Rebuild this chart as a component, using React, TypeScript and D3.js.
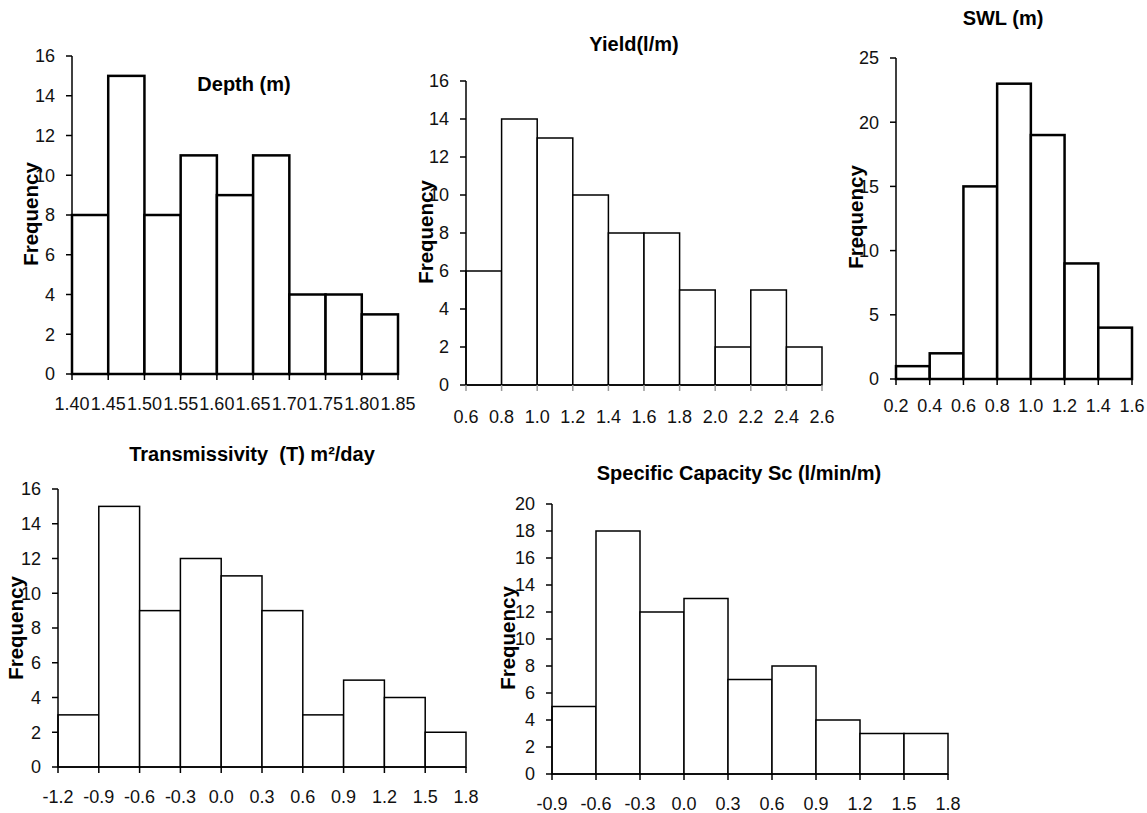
import React from "react";
import * as d3 from "d3";

// bin edges (also the x tick labels) and counts per histogram
const depthEdges = [1.4, 1.45, 1.5, 1.55, 1.6, 1.65, 1.7, 1.75, 1.8, 1.85];
const depthCounts = [8, 15, 8, 11, 9, 11, 4, 4, 3];
const depthYTicks = [0, 2, 4, 6, 8, 10, 12, 14, 16];

const yieldEdges = [0.6, 0.8, 1.0, 1.2, 1.4, 1.6, 1.8, 2.0, 2.2, 2.4, 2.6];
const yieldCounts = [6, 14, 13, 10, 8, 8, 5, 2, 5, 2];
const yieldYTicks = [0, 2, 4, 6, 8, 10, 12, 14, 16];

const swlEdges = [0.2, 0.4, 0.6, 0.8, 1.0, 1.2, 1.4, 1.6];
const swlCounts = [1, 2, 15, 23, 19, 9, 4];
const swlYTicks = [0, 5, 10, 15, 20, 25];

const transEdges = [-1.2, -0.9, -0.6, -0.3, 0.0, 0.3, 0.6, 0.9, 1.2, 1.5, 1.8];
const transCounts = [3, 15, 9, 12, 11, 9, 3, 5, 4, 2];
const transYTicks = [0, 2, 4, 6, 8, 10, 12, 14, 16];

const scEdges = [-0.9, -0.6, -0.3, 0.0, 0.3, 0.6, 0.9, 1.2, 1.5, 1.8];
const scCounts = [5, 18, 12, 13, 7, 8, 4, 3, 3];
const scYTicks = [0, 2, 4, 6, 8, 10, 12, 14, 16, 18, 20];

const FONT = "'Liberation Sans', Arial, sans-serif";

type HistProps = {
  edges: number[];
  counts: number[];
  yTicks: number[];
  decimals: number;
  title: React.ReactNode;
  x0: number;
  x1: number;
  yTop: number;
  yBottom: number;
  titleX: number;
  titleY: number;
  freqX: number;
  freqY: number;
  xPad: number;
  barStroke: number;
  xTickColor?: string;
};

const Histogram = ({
  edges,
  counts,
  yTicks,
  decimals,
  title,
  x0,
  x1,
  yTop,
  yBottom,
  titleX,
  titleY,
  freqX,
  freqY,
  xPad,
  barStroke,
  xTickColor = "#000",
}: HistProps) => {
  const xScale = d3
    .scaleLinear()
    .domain([edges[0], edges[edges.length - 1]])
    .range([x0, x1]);
  const yScale = d3
    .scaleLinear()
    .domain([0, yTicks[yTicks.length - 1]])
    .range([yBottom, yTop]);
  // excel-style labels use a plain hyphen for negatives
  const fmt = (v: number) => d3.format(`.${decimals}f`)(v).replace("\u2212", "-");
  const tickSize = 6;

  return (
    <g fontFamily={FONT}>
      {/* title */}
      <text
        x={titleX}
        y={titleY}
        textAnchor="middle"
        fontSize={20}
        fontWeight="bold"
        fill="#000"
      >
        {title}
      </text>

      {/* y axis label */}
      <text
        transform={`translate(${freqX},${freqY}) rotate(-90)`}
        textAnchor="middle"
        fontSize={20.5}
        fontWeight="bold"
        fill="#000"
      >
        Frequency
      </text>

      {/* bars */}
      {counts.map((c, i) => (
        <rect
          key={i}
          x={xScale(edges[i])}
          y={yScale(c)}
          width={xScale(edges[i + 1]) - xScale(edges[i])}
          height={yScale(0) - yScale(c)}
          fill="#fff"
          stroke="#000"
          strokeWidth={barStroke}
        />
      ))}

      {/* y axis */}
      <line x1={x0} x2={x0} y1={yTop} y2={yBottom} stroke="#000" strokeWidth={1.5} />
      {yTicks.map((t) => (
        <g key={t}>
          <line
            x1={x0 - tickSize}
            x2={x0}
            y1={yScale(t)}
            y2={yScale(t)}
            stroke="#000"
            strokeWidth={1.5}
          />
          <text
            x={x0 - tickSize - 11}
            y={yScale(t)}
            dy="0.36em"
            textAnchor="end"
            fontSize={18}
            fill="#111"
          >
            {t}
          </text>
        </g>
      ))}

      {/* x axis */}
      <line x1={x0} x2={x1} y1={yBottom} y2={yBottom} stroke="#000" strokeWidth={1.5} />
      {edges.map((e) => (
        <g key={e}>
          <line
            x1={xScale(e)}
            x2={xScale(e)}
            y1={yBottom}
            y2={yBottom + tickSize}
            stroke={xTickColor}
            strokeWidth={1.5}
          />
          <text
            x={xScale(e)}
            y={yBottom + tickSize + xPad}
            dy="0.71em"
            textAnchor="middle"
            fontSize={18}
            fill="#111"
          >
            {fmt(e)}
          </text>
        </g>
      ))}
    </g>
  );
};

export default function App() {
  return (
    <svg
      width={1147}
      height={813}
      style={{ position: "absolute", left: 0, top: 0, background: "#fff" }}
    >
      <rect width={1147} height={813} fill="#fff" />
      <Histogram
        edges={depthEdges}
        counts={depthCounts}
        yTicks={depthYTicks}
        decimals={2}
        title="Depth (m)"
        x0={72}
        x1={398}
        yTop={56}
        yBottom={374}
        titleX={244}
        titleY={91}
        freqX={38}
        freqY={214}
        xPad={17}
        barStroke={2.5}
      />
      <Histogram
        edges={yieldEdges}
        counts={yieldCounts}
        yTicks={yieldYTicks}
        decimals={1}
        title="Yield(l/m)"
        x0={466}
        x1={822}
        yTop={81}
        yBottom={385}
        titleX={634}
        titleY={51}
        freqX={433}
        freqY={232}
        xPad={19}
        barStroke={1.5}
        xTickColor="#999"
      />
      <Histogram
        edges={swlEdges}
        counts={swlCounts}
        yTicks={swlYTicks}
        decimals={1}
        title="SWL (m)"
        x0={896}
        x1={1132}
        yTop={58}
        yBottom={379}
        titleX={1003}
        titleY={25}
        freqX={863}
        freqY={217}
        xPad={14}
        barStroke={2.5}
      />
      <Histogram
        edges={transEdges}
        counts={transCounts}
        yTicks={transYTicks}
        decimals={1}
        title={
          <>
            Transmissivity{"\u00a0\u00a0"}(T) m²/day
          </>
        }
        x0={58}
        x1={466}
        yTop={489}
        yBottom={767}
        titleX={252}
        titleY={461}
        freqX={23}
        freqY={628}
        xPad={17}
        barStroke={1.5}
      />
      <Histogram
        edges={scEdges}
        counts={scCounts}
        yTicks={scYTicks}
        decimals={1}
        title="Specific Capacity Sc (l/min/m)"
        x0={552}
        x1={948}
        yTop={504}
        yBottom={774}
        titleX={739}
        titleY={480}
        freqX={515}
        freqY={638}
        xPad={17}
        barStroke={1.5}
      />
    </svg>
  );
}
